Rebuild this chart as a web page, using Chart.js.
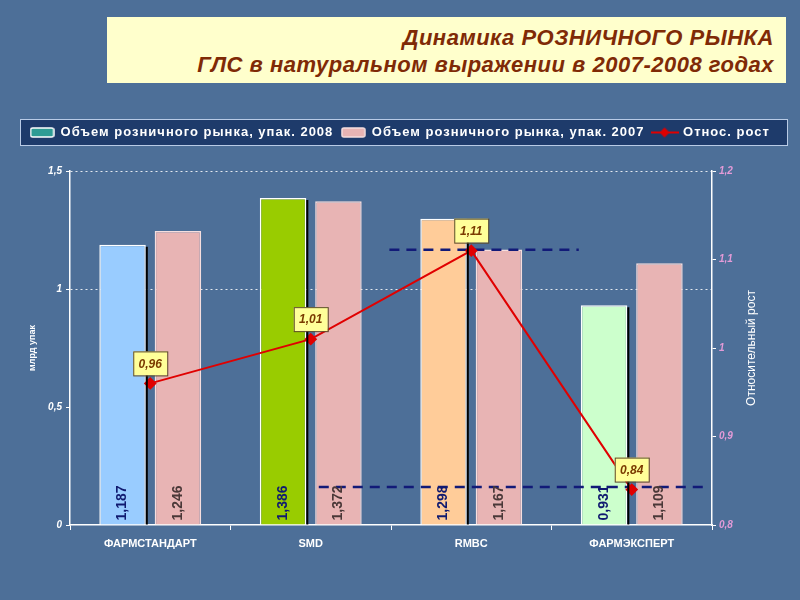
<!DOCTYPE html>
<html>
<head>
<meta charset="utf-8">
<script src="https://cdn.jsdelivr.net/npm/chart.js@4.4.1/dist/chart.umd.min.js"></script>
<style>
  html, body { margin: 0; padding: 0; }
  body { width: 800px; height: 600px; background: #4d6f98; position: relative; overflow: hidden; }
  #title {
    position: absolute; left: 107px; top: 17px; width: 667px; height: 59px;
    background: #ffffcc; padding-right: 12px; padding-top: 7px;
    text-align: right; color: #7f2a06; letter-spacing: 0.5px;
    font: italic bold 22px "Liberation Sans", Arial, sans-serif; line-height: 27px;
  }
  #chart { position: absolute; left: 0; top: 0; }
</style>
</head>
<body>
<div id="title">Динамика РОЗНИЧНОГО РЫНКА<br>ГЛС в натуральном выражении в 2007-2008 годах</div>
<canvas id="chart" width="800" height="600"></canvas>
<script>
// chart data
const categories = ['ФАРМСТАНДАРТ', 'SMD', 'RMBC', 'ФАРМЭКСПЕРТ'];
const volume2008 = [1.187, 1.386, 1.298, 0.931];
const volume2007 = [1.246, 1.372, 1.167, 1.109];
const growth = [0.96, 1.01, 1.11, 0.84];
const colors2008 = ['#99ccff', '#99cc00', '#ffcc99', '#ccffcc'];
// dashed reference lines (x in category units, y on the growth axis)
const refHigh = [{ x: 1.49, y: 1.111 }, { x: 2.67, y: 1.111 }];
const refLow = [{ x: 1.05, y: 0.843 }, { x: 3.47, y: 0.843 }];

const fmt = v => String(v).replace('.', ',');

// small canvases used as legend symbols
function swatch(w, h, fill, stroke) {
    const c = document.createElement('canvas');
    c.width = w + 2; c.height = h + 2;
    const g = c.getContext('2d');
    g.fillStyle = fill; g.strokeStyle = stroke; g.lineWidth = 1.5;
    g.beginPath();
    g.roundRect(1, 1, w, h, 2);
    g.fill(); g.stroke();
    return c;
}
function lineSymbol() {
    const c = document.createElement('canvas');
    c.width = 28; c.height = 12;
    const g = c.getContext('2d');
    g.strokeStyle = '#e00000'; g.lineWidth = 2;
    g.beginPath(); g.moveTo(0, 6); g.lineTo(28, 6); g.stroke();
    g.fillStyle = '#e00000';
    g.beginPath(); g.moveTo(14, 1); g.lineTo(19, 6); g.lineTo(14, 11); g.lineTo(9, 6); g.closePath(); g.fill();
    return c;
}
const legendSymbols = [swatch(23, 9, '#2e9c94', '#ffffff'), swatch(23, 9, '#e8b4b4', '#f6dede'), lineSymbol()];

const decorations = {
    id: 'decorations',
    beforeLayout(chart) {
        const lg = chart.legend;
        if (lg && !lg._patched) {
            const fit = lg.fit, draw = lg.draw;
            // wider letter spacing in the legend, fixed legend band height
            lg.fit = function () {
                this.ctx.save(); this.ctx.letterSpacing = '1px';
                fit.call(this);
                this.ctx.restore();
                this.height = 53;
            };
            lg.draw = function () {
                this.ctx.save(); this.ctx.letterSpacing = '1px';
                draw.call(this);
                this.ctx.restore();
            };
            lg._patched = true;
        }
    },
    beforeDraw(chart) {
        const ctx = chart.ctx;
        ctx.save();
        ctx.fillStyle = '#1e3b6b';
        ctx.fillRect(20, 119, 767, 26);
        ctx.strokeStyle = '#b9cbe6';
        ctx.lineWidth = 1;
        ctx.strokeRect(20.5, 119.5, 767, 26);
        ctx.restore();
    },
    afterDatasetDraw(chart, args) {
        if (args.index !== 0) return;
        // dashed reference lines over the bars, under the growth line
        const ctx = chart.ctx, xs = chart.scales.x, ys = chart.scales.y1;
        ctx.save();
        ctx.strokeStyle = '#121a78';
        ctx.lineWidth = 2.5;
        ctx.setLineDash([10, 7]);
        [refHigh, refLow].forEach(ref => {
            ctx.beginPath();
            ref.forEach((p, i) => {
                const px = xs.getPixelForValue(p.x), py = ys.getPixelForValue(p.y);
                if (i === 0) ctx.moveTo(px, py); else ctx.lineTo(px, py);
            });
            ctx.stroke();
        });
        ctx.restore();
    },
    afterDatasetsDraw(chart) {
        const ctx = chart.ctx;
        ctx.save();
        // black edge on the right of 2008 bars
        chart.getDatasetMeta(0).data.forEach(bar => {
            const x = bar.x + bar.width / 2 + 1;
            ctx.strokeStyle = '#000000';
            ctx.lineWidth = 2;
            ctx.beginPath(); ctx.moveTo(x, bar.y + 2); ctx.lineTo(x, bar.base); ctx.stroke();
        });
        // vertical value labels on bars
        [[0, '#101a70'], [1, '#4a3838']].forEach(([di, col]) => {
            const ds = chart.data.datasets[di];
            chart.getDatasetMeta(di).data.forEach((bar, i) => {
                ctx.save();
                ctx.translate(bar.x, bar.base - 4);
                ctx.rotate(-Math.PI / 2);
                ctx.font = 'bold 14px "Liberation Sans", Arial, sans-serif';
                ctx.fillStyle = col;
                ctx.textAlign = 'left';
                ctx.textBaseline = 'middle';
                ctx.fillText(fmt(ds.data[i]), 0, 0);
                ctx.restore();
            });
        });
        // yellow boxes with growth values
        chart.getDatasetMeta(2).data.forEach((pt, i) => {
            const w = 34, h = 24;
            const x = pt.x - w / 2, y = pt.y - 8 - h;
            ctx.fillStyle = '#ffff99';
            ctx.fillRect(x, y, w, h);
            ctx.strokeStyle = '#5c4a2a';
            ctx.lineWidth = 1;
            ctx.strokeRect(x + 0.5, y + 0.5, w, h);
            ctx.font = 'italic bold 12px "Liberation Sans", Arial, sans-serif';
            ctx.fillStyle = '#7a3a00';
            ctx.textAlign = 'center';
            ctx.textBaseline = 'middle';
            ctx.fillText(fmt(growth[i]), pt.x, y + h / 2 + 1);
        });
        // right axis title, reading bottom to top
        const ya = chart.scales.y1;
        ctx.translate(752, (ya.top + ya.bottom) / 2);
        ctx.rotate(-Math.PI / 2);
        ctx.font = '12px "Liberation Sans", Arial, sans-serif';
        ctx.fillStyle = '#ffffff';
        ctx.textAlign = 'center';
        ctx.textBaseline = 'middle';
        ctx.fillText('Относительный рост', 0, 0);
        ctx.restore();
    }
};

const ctx = document.getElementById('chart').getContext('2d');
new Chart(ctx, {
    type: 'bar',
    data: {
        labels: categories,
        datasets: [
            { type: 'bar', label: 'Объем розничного рынка, упак. 2008', data: volume2008, backgroundColor: colors2008,
              borderColor: '#ffffff', borderWidth: 1.5, borderSkipped: 'bottom', yAxisID: 'y', order: 3 },
            { type: 'bar', label: 'Объем розничного рынка, упак. 2007', data: volume2007, backgroundColor: '#e8b4b4',
              borderColor: '#f6dede', borderWidth: 1.5, borderSkipped: 'bottom', yAxisID: 'y', order: 3 },
            { type: 'line', label: 'Относ. рост', data: growth, yAxisID: 'y1', borderColor: '#e00000', borderWidth: 2,
              pointStyle: 'rectRot', pointRadius: 5, pointBackgroundColor: '#e00000', pointBorderColor: '#e00000',
              tension: 0, order: 1 }
        ]
    },
    options: {
        responsive: false,
        animation: false,
        layout: { padding: { top: 118, left: 0, right: 0, bottom: 0 } },
        datasets: { bar: { categoryPercentage: 0.69, barPercentage: 0.84 } },
        plugins: {
            tooltip: { enabled: false },
            legend: {
                position: 'top',
                onClick: null,
                labels: {
                    usePointStyle: true,
                    pointStyleWidth: 24,
                    boxHeight: 12,
                    padding: 8,
                    color: '#ffffff',
                    font: { family: '"Liberation Sans", Arial, sans-serif', size: 13, weight: 'bold' },
                    generateLabels: chart => chart.data.datasets.map((ds, i) => ({
                        text: ds.label, datasetIndex: i, pointStyle: legendSymbols[i],
                        fontColor: '#ffffff', lineWidth: 0, hidden: false
                    }))
                }
            }
        },
        scales: {
            x: {
                type: 'category',
                offset: true,
                afterFit: s => { s.height = 75; },
                grid: { drawOnChartArea: false, color: '#ffffff', tickColor: '#ffffff', tickLength: 5, offset: true },
                border: { color: '#ffffff', width: 1.5 },
                ticks: { color: '#ffffff', padding: 7, font: { family: '"Liberation Sans", Arial, sans-serif', size: 11, weight: 'bold' } }
            },
            y: {
                position: 'left',
                min: 0, max: 1.5,
                afterFit: s => { s.width = 70; },
                ticks: { stepSize: 0.5, color: '#ffffff', padding: 4, callback: v => fmt(v),
                         font: { family: '"Liberation Sans", Arial, sans-serif', size: 10, weight: 'bold', style: 'italic' } },
                grid: { color: ctx => ctx.tick && ctx.tick.value >= 1 ? 'rgba(255,255,255,0.85)' : 'rgba(0,0,0,0)',
                        tickColor: '#ffffff', tickLength: 4, lineWidth: 1 },
                border: { color: '#ffffff', width: 1.5, dash: [2, 3] },
                title: { display: true, text: 'млрд упак', color: '#ffffff', padding: { top: 27, bottom: 0 },
                         font: { family: '"Liberation Sans", Arial, sans-serif', size: 9, weight: 'bold' } }
            },
            y1: {
                position: 'right',
                min: 0.8, max: 1.2,
                afterFit: s => { s.width = 88; },
                ticks: { stepSize: 0.1, color: '#e49bd8', padding: 3, callback: v => fmt(Math.round(v * 10) / 10),
                         font: { family: '"Liberation Sans", Arial, sans-serif', size: 10, weight: 'bold', style: 'italic' } },
                grid: { drawOnChartArea: false, tickColor: '#ffffff', tickLength: 4 },
                border: { color: '#ffffff', width: 1.5 }
            }
        }
    },
    plugins: [decorations]
});
</script>
</body>
</html>
